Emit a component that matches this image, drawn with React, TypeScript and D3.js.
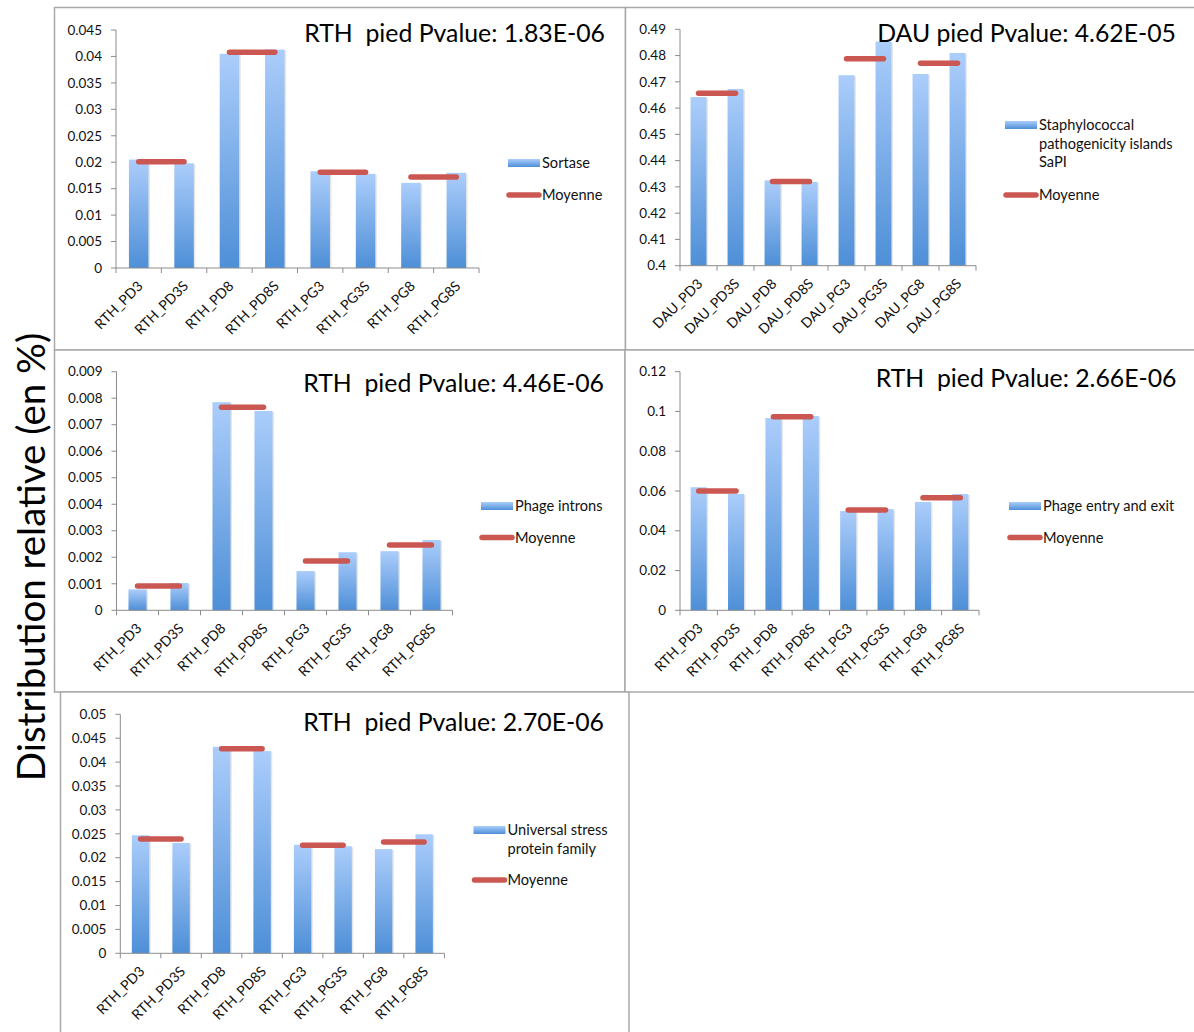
import React from "react";
import * as d3 from "d3";

// ---------- DATA ----------
const rthCategories = ["RTH_PD3", "RTH_PD3S", "RTH_PD8", "RTH_PD8S", "RTH_PG3", "RTH_PG3S", "RTH_PG8", "RTH_PG8S"];
const dauCategories = ["DAU_PD3", "DAU_PD3S", "DAU_PD8", "DAU_PD8S", "DAU_PG3", "DAU_PG3S", "DAU_PG8", "DAU_PG8S"];

const sortaseValues = [0.0205, 0.0198, 0.0405, 0.0413, 0.0183, 0.0178, 0.0161, 0.018];
const sortaseMeans = [0.0201, 0.0408, 0.0181, 0.0172];
const sortaseTicks = ["0", "0.005", "0.01", "0.015", "0.02", "0.025", "0.03", "0.035", "0.04", "0.045"];

const sapiValues = [0.4642, 0.4673, 0.4325, 0.4319, 0.4725, 0.4853, 0.473, 0.481];
const sapiMeans = [0.4657, 0.4321, 0.4788, 0.4771];
const sapiTicks = ["0.4", "0.41", "0.42", "0.43", "0.44", "0.45", "0.46", "0.47", "0.48", "0.49"];

const intronValues = [0.00079, 0.00103, 0.00785, 0.00752, 0.00148, 0.00219, 0.00223, 0.00265];
const intronMeans = [0.00092, 0.00766, 0.00186, 0.00246];
const intronTicks = ["0", "0.001", "0.002", "0.003", "0.004", "0.005", "0.006", "0.007", "0.008", "0.009"];

const entryValues = [0.0619, 0.0585, 0.0967, 0.0977, 0.0499, 0.0509, 0.0545, 0.0585];
const entryMeans = [0.06, 0.0974, 0.0504, 0.0566];
const entryTicks = ["0", "0.02", "0.04", "0.06", "0.08", "0.1", "0.12"];

const stressValues = [0.0247, 0.0231, 0.0432, 0.0423, 0.0227, 0.0224, 0.0218, 0.0249];
const stressMeans = [0.0239, 0.0428, 0.0226, 0.0233];
const stressTicks = ["0", "0.005", "0.01", "0.015", "0.02", "0.025", "0.03", "0.035", "0.04", "0.045", "0.05"];

const titles = [
  "RTH  pied Pvalue: 1.83E-06",
  "DAU pied Pvalue: 4.62E-05",
  "RTH  pied Pvalue: 4.46E-06",
  "RTH  pied Pvalue: 2.66E-06",
  "RTH  pied Pvalue: 2.70E-06",
];
const seriesNames = [
  ["Sortase"],
  ["Staphylococcal", "pathogenicity islands", "SaPI"],
  ["Phage introns"],
  ["Phage entry and exit"],
  ["Universal stress", "protein family"],
];
const meanName = "Moyenne";
const yAxisTitle = "Distribution relative (en %)";

// ---------- LAYOUT ----------
const FONT = "Lato, 'Open Sans', sans-serif";
const RED = "#cb5752";
const AXIS = "#8c8c8c";
const FRAME = "#a9a9a9";

type PanelCfg = {
  frame: [number, number, number, number];
  x0: number; x1: number; yTop: number; yBottom: number;
  categories: string[]; values: number[]; means: number[]; ticks: string[];
  title: string; titleX: number; titleY: number;
  legendX: number; legendY: number; names: string[]; meanY: number;
};

const panels: PanelCfg[] = [
  {
    frame: [54.5, 7.5, 571, 342.5], x0: 116, x1: 479, yTop: 30, yBottom: 268,
    categories: rthCategories, values: sortaseValues, means: sortaseMeans, ticks: sortaseTicks,
    title: titles[0], titleX: 605, titleY: 42, legendX: 508, legendY: 159, names: seriesNames[0], meanY: 195,
  },
  {
    frame: [625.5, 7.5, 580, 342.5], x0: 680, x1: 976, yTop: 29.3, yBottom: 265.7,
    categories: dauCategories, values: sapiValues, means: sapiMeans, ticks: sapiTicks,
    title: titles[1], titleX: 1176, titleY: 42, legendX: 1005, legendY: 121, names: seriesNames[1], meanY: 195,
  },
  {
    frame: [54.5, 350, 570.5, 342], x0: 116.5, x1: 452.5, yTop: 371.7, yBottom: 610.3,
    categories: rthCategories, values: intronValues, means: intronMeans, ticks: intronTicks,
    title: titles[2], titleX: 604, titleY: 392, legendX: 481, legendY: 502, names: seriesNames[2], meanY: 537.5,
  },
  {
    frame: [625, 350, 580, 342], x0: 680, x1: 979, yTop: 371.7, yBottom: 610.3,
    categories: rthCategories, values: entryValues, means: entryMeans, ticks: entryTicks,
    title: titles[3], titleX: 1176.5, titleY: 387, legendX: 1009, legendY: 502, names: seriesNames[3], meanY: 537.5,
  },
  {
    frame: [60.5, 692, 568.5, 360], x0: 120.3, x1: 444.4, yTop: 714.3, yBottom: 953.3,
    categories: rthCategories, values: stressValues, means: stressMeans, ticks: stressTicks,
    title: titles[4], titleX: 604, titleY: 731, legendX: 473.5, legendY: 826, names: seriesNames[4], meanY: 880,
  },
];

function Panel({ p }: { p: PanelCfg }) {
  const tickVals = p.ticks.map((t) => parseFloat(t));
  const y = d3.scaleLinear().domain([tickVals[0], tickVals[tickVals.length - 1]]).range([p.yBottom, p.yTop]);
  const x = d3.scaleBand<string>().domain(p.categories).range([p.x0, p.x1]).paddingInner(0).paddingOuter(0);
  const bw = x.bandwidth() * 0.43;
  const cx = (c: string) => (x(c) as number) + x.bandwidth() / 2;
  const line = d3.line<[number, number]>().x((d) => d[0]).y((d) => d[1]);
  const gradId = "barGrad";
  const [fx, fy, fw, fh] = p.frame;
  return (
    <g>
      <rect x={fx} y={fy} width={fw} height={fh} fill="#fff" stroke={FRAME} strokeWidth={1.5} />
      {/* y axis */}
      <line x1={p.x0} x2={p.x0} y1={p.yTop} y2={p.yBottom} stroke={AXIS} strokeWidth={1} />
      {tickVals.map((v, i) => (
        <g key={i}>
          <line x1={p.x0 - 5} x2={p.x0} y1={y(v)} y2={y(v)} stroke={AXIS} />
          <text x={p.x0 - 14} y={y(v)} dy="0.35em" textAnchor="end" fontSize={13.5} fontFamily={FONT} fill="#111">
            {p.ticks[i]}
          </text>
        </g>
      ))}
      {/* bars */}
      {p.categories.map((c, i) => {
        const top = y(p.values[i]);
        return (
          <g key={c}>
            <rect x={cx(c) - bw / 2 + 1.5} y={top + 1} width={bw} height={p.yBottom - top - 1} fill="#000" opacity={0.1} />
            <rect x={cx(c) - bw / 2} y={top} width={bw} height={p.yBottom - top} fill={`url(#${gradId})`} />
          </g>
        );
      })}
      {/* x axis */}
      <line x1={p.x0} x2={p.x1} y1={p.yBottom} y2={p.yBottom} stroke={AXIS} strokeWidth={1} />
      {d3.range(p.categories.length + 1).map((i) => {
        const xx = p.x0 + i * x.bandwidth();
        return <line key={i} x1={xx} x2={xx} y1={p.yBottom} y2={p.yBottom + 5} stroke={AXIS} />;
      })}
      {p.categories.map((c) => (
        <text
          key={c}
          transform={`translate(${cx(c) + 5},${p.yBottom + 19}) rotate(-45)`}
          textAnchor="end"
          fontSize={14}
          fontFamily={FONT}
          fill="#111"
        >
          {c}
        </text>
      ))}
      {/* means */}
      {p.means.map((m, k) => {
        const a = p.categories[2 * k];
        const b = p.categories[2 * k + 1];
        return (
          <path
            key={k}
            d={line([[cx(a), y(m)], [cx(b), y(m)]]) as string}
            stroke={RED}
            strokeWidth={5.5}
            strokeLinecap="round"
            fill="none"
          />
        );
      })}
      {/* title */}
      <text
        x={p.titleX}
        y={p.titleY}
        textAnchor="end"
        fontSize={24.8}
        fontFamily={FONT}
        fill="#000"
        style={{ whiteSpace: "pre" }}
        xmlSpace="preserve"
      >
        {p.title}
      </text>
      {/* legend */}
      <rect x={p.legendX} y={p.legendY} width={32} height={8} fill={`url(#${gradId})`} />
      {p.names.map((n, i) => (
        <text key={i} x={p.legendX + 34} y={p.legendY + 9 + i * 18.7} fontSize={14.6} fontFamily={FONT} fill="#111">
          {n}
        </text>
      ))}
      <line x1={p.legendX + 1} x2={p.legendX + 31} y1={p.meanY} y2={p.meanY} stroke={RED} strokeWidth={5.5} strokeLinecap="round" />
      <text x={p.legendX + 34} y={p.meanY + 5} fontSize={14.6} fontFamily={FONT} fill="#111">
        {meanName}
      </text>
    </g>
  );
}

export default function App() {
  return (
    <svg
      width={1194}
      height={1032}
      viewBox="0 0 1194 1032"
      style={{ position: "absolute", left: 0, top: 0, background: "#fff" }}
    >
      <defs>
        <linearGradient id="barGrad" x1="0" y1="0" x2="0" y2="1">
          <stop offset="0" stopColor="#abcdfb" />
          <stop offset="1" stopColor="#4e8fd7" />
        </linearGradient>
      </defs>
      <rect x={0} y={0} width={1194} height={1032} fill="#fff" />
      {panels.map((p, i) => (
        <Panel key={i} p={p} />
      ))}
      <text
        transform="translate(45,557) rotate(-90)"
        textAnchor="middle"
        fontSize={38.5}
        fontFamily={FONT}
        fill="#000"
      >
        {yAxisTitle}
      </text>
    </svg>
  );
}
